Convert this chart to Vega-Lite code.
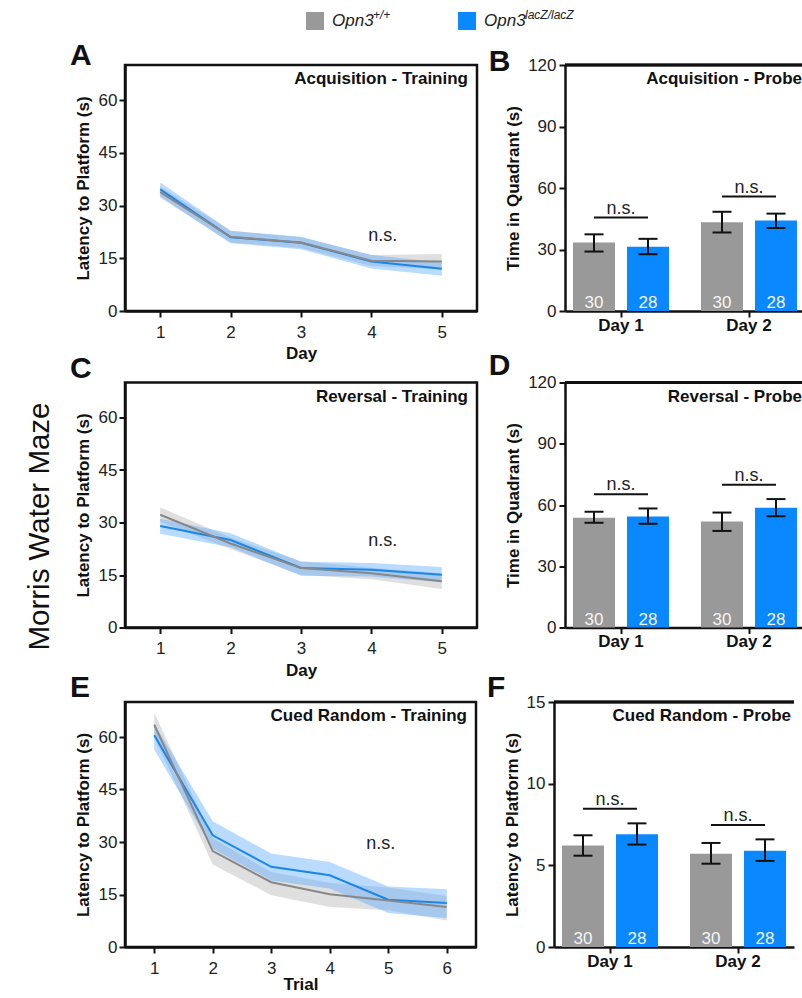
{
  "$schema": "https://vega.github.io/schema/vega-lite/v6.json",
  "padding": {"left": 25, "top": 0, "right": 0, "bottom": 0},
  "background": "white",
  "config": {
    "font": "Liberation Sans",
    "view": {"stroke": "#111", "strokeWidth": 2.5},
    "axis": {"domainColor": "#111", "domainWidth": 2.5, "tickColor": "#111", "tickWidth": 2, "tickSize": 6, "labelFontSize": 17, "labelColor": "#222", "labelFont": "Liberation Sans", "titleFont": "Liberation Sans", "titleFontSize": 17, "titleFontWeight": "bold", "titleColor": "#111", "grid": false},
    "title": {"fontSize": 30, "fontWeight": "bold", "anchor": "start", "color": "#111", "font": "Liberation Sans", "offset": -9}
  },
  "datasets": {
    "legend": [
      {"g": "wt", "base": "Opn3", "sup": "+/+"},
      {"g": "ko", "base": "Opn3", "sup": "lacZ/lacZ"}
    ],
    "lineA": [
      {"g": "wt", "x": 1, "m": 33.8, "lo": 32.2, "hi": 35.4},
      {"g": "wt", "x": 2, "m": 21.1, "lo": 19.5, "hi": 22.8},
      {"g": "wt", "x": 3, "m": 19.5, "lo": 17.9, "hi": 21.0},
      {"g": "wt", "x": 4, "m": 14.3, "lo": 12.8, "hi": 15.9},
      {"g": "wt", "x": 5, "m": 14.1, "lo": 11.9, "hi": 16.2},
      {"g": "ko", "x": 1, "m": 34.6, "lo": 32.6, "hi": 36.6},
      {"g": "ko", "x": 2, "m": 21.0, "lo": 19.3, "hi": 22.8},
      {"g": "ko", "x": 3, "m": 19.4, "lo": 17.6, "hi": 21.1},
      {"g": "ko", "x": 4, "m": 14.1, "lo": 12.1, "hi": 15.9},
      {"g": "ko", "x": 5, "m": 12.0, "lo": 10.0, "hi": 13.8}
    ],
    "lineC": [
      {"g": "wt", "x": 1, "m": 32.2, "lo": 30.2, "hi": 34.3},
      {"g": "wt", "x": 2, "m": 24.0, "lo": 22.4, "hi": 25.7},
      {"g": "wt", "x": 3, "m": 17.0, "lo": 15.0, "hi": 18.9},
      {"g": "wt", "x": 4, "m": 15.5, "lo": 13.8, "hi": 17.1},
      {"g": "wt", "x": 5, "m": 13.2, "lo": 11.0, "hi": 15.5},
      {"g": "ko", "x": 1, "m": 29.0, "lo": 26.8, "hi": 31.1},
      {"g": "ko", "x": 2, "m": 25.0, "lo": 22.9, "hi": 26.9},
      {"g": "ko", "x": 3, "m": 17.0, "lo": 14.8, "hi": 18.8},
      {"g": "ko", "x": 4, "m": 16.5, "lo": 14.6, "hi": 18.4},
      {"g": "ko", "x": 5, "m": 15.1, "lo": 12.9, "hi": 17.3}
    ],
    "lineE": [
      {"g": "wt", "x": 1, "m": 63.5, "lo": 60.0, "hi": 66.9},
      {"g": "wt", "x": 2, "m": 27.4, "lo": 23.6, "hi": 31.0},
      {"g": "wt", "x": 3, "m": 18.5, "lo": 14.8, "hi": 21.4},
      {"g": "wt", "x": 4, "m": 15.1, "lo": 11.4, "hi": 18.3},
      {"g": "wt", "x": 5, "m": 13.3, "lo": 10.5, "hi": 17.0},
      {"g": "wt", "x": 6, "m": 11.4, "lo": 7.6, "hi": 14.6},
      {"g": "ko", "x": 1, "m": 60.5, "lo": 56.4, "hi": 63.8},
      {"g": "ko", "x": 2, "m": 31.9, "lo": 28.1, "hi": 35.9},
      {"g": "ko", "x": 3, "m": 22.9, "lo": 19.0, "hi": 26.7},
      {"g": "ko", "x": 4, "m": 20.5, "lo": 16.7, "hi": 24.3},
      {"g": "ko", "x": 5, "m": 13.5, "lo": 9.7, "hi": 17.3},
      {"g": "ko", "x": 6, "m": 12.6, "lo": 8.3, "hi": 16.5}
    ],
    "barB": [
      {"day": "Day 1", "g": "wt", "m": 33.4, "lo": 29.0, "hi": 37.4, "n": "30", "ns": 45.6},
      {"day": "Day 1", "g": "ko", "m": 31.4, "lo": 27.7, "hi": 35.2, "n": "28", "ns": 45.6},
      {"day": "Day 2", "g": "wt", "m": 43.3, "lo": 38.3, "hi": 48.4, "n": "30", "ns": 55.8},
      {"day": "Day 2", "g": "ko", "m": 44.1, "lo": 40.5, "hi": 47.5, "n": "28", "ns": 55.8}
    ],
    "barD": [
      {"day": "Day 1", "g": "wt", "m": 53.7, "lo": 51.3, "hi": 56.7, "n": "30", "ns": 65.3},
      {"day": "Day 1", "g": "ko", "m": 54.4, "lo": 50.8, "hi": 58.3, "n": "28", "ns": 65.3},
      {"day": "Day 2", "g": "wt", "m": 51.9, "lo": 47.3, "hi": 56.3, "n": "30", "ns": 69.9},
      {"day": "Day 2", "g": "ko", "m": 58.6, "lo": 54.5, "hi": 62.9, "n": "28", "ns": 69.9}
    ],
    "barF": [
      {"day": "Day 1", "g": "wt", "m": 6.22, "lo": 5.59, "hi": 6.84, "n": "30", "ns": 8.47},
      {"day": "Day 1", "g": "ko", "m": 6.90, "lo": 6.27, "hi": 7.57, "n": "28", "ns": 8.47},
      {"day": "Day 2", "g": "wt", "m": 5.71, "lo": 5.10, "hi": 6.37, "n": "30", "ns": 7.47},
      {"day": "Day 2", "g": "ko", "m": 5.90, "lo": 5.27, "hi": 6.59, "n": "28", "ns": 7.47}
    ]
  },
  "spacing": -3,
  "vconcat": [
    {
      "width": 456, "height": 42,
      "view": {"stroke": null},
      "data": {"name": "legend"},
      "encoding": {"x": {"field": "g", "type": "nominal", "scale": {"type": "point", "domain": ["wt", "ko"], "padding": 1, "align": 0.625}, "axis": null}},
      "layer": [
        {"mark": {"type": "square", "size": 324, "filled": true, "opacity": 1}, "encoding": {"color": {"field": "g", "type": "nominal", "scale": {"domain": ["wt", "ko"], "range": ["#999999", "#0a88ff"]}, "legend": null}}},
        {"mark": {"type": "text", "align": "left", "dx": 17, "fontSize": 17, "fontStyle": "italic", "color": "#222"}, "encoding": {"text": {"field": "base"}}},
        {"mark": {"type": "text", "align": "left", "dx": 58, "dy": -6, "fontSize": 12, "fontStyle": "italic", "color": "#222"}, "encoding": {"text": {"field": "sup"}}}
      ]
    },
    {
      "title": {"text": "Morris Water Maze", "orient": "left", "anchor": "middle", "fontSize": 29.5, "fontWeight": "normal", "offset": 13, "dx": -10, "color": "#111"},
      "spacing": -12.5,
      "vconcat": [
        {
          "spacing": 9,
          "hconcat": [
            {
              "width": 352, "height": 246,
              "title": {"text": "A", "dx": -4, "dy": -3},
              "data": {"name": "lineA"},
              "layer": [
                {"transform": [{"filter": "datum.g === 'wt'"}], "mark": {"type": "area", "color": "#b0b0b0", "opacity": 0.4}, "encoding": {"x": {"field": "x", "type": "quantitative", "scale": {"domain": [0.5, 5.5], "nice": false}, "axis": {"values": [1, 2, 3, 4, 5], "format": "d", "title": "Day", "labelPadding": 7, "titlePadding": 5.5}}, "y": {"field": "lo", "type": "quantitative", "scale": {"domain": [0, 70], "nice": false}, "axis": {"values": [0, 15, 30, 45, 60], "title": "Latency to Platform (s)", "labelPadding": 2, "titlePadding": 6}}, "y2": {"field": "hi"}}},
                {"transform": [{"filter": "datum.g === 'ko'"}], "mark": {"type": "area", "color": "#4da6ff", "opacity": 0.4}, "encoding": {"x": {"field": "x", "type": "quantitative"}, "y": {"field": "lo", "type": "quantitative"}, "y2": {"field": "hi"}}},
                {"transform": [{"filter": "datum.g === 'ko'"}], "mark": {"type": "line", "color": "#1a86e8", "strokeWidth": 2}, "encoding": {"x": {"field": "x", "type": "quantitative"}, "y": {"field": "m", "type": "quantitative"}}},
                {"transform": [{"filter": "datum.g === 'wt'"}], "mark": {"type": "line", "color": "#888888", "strokeWidth": 2}, "encoding": {"x": {"field": "x", "type": "quantitative"}, "y": {"field": "m", "type": "quantitative"}}},
                {"data": {"values": [{"note": "n.s."}]}, "mark": {"type": "text", "fontSize": 18, "color": "#222"}, "encoding": {"x": {"datum": 4.16, "type": "quantitative"}, "y": {"datum": 21.4, "type": "quantitative"}, "text": {"field": "note"}}},
                {"data": {"values": [{"t": "Acquisition - Training"}]}, "mark": {"type": "text", "align": "right", "baseline": "top", "dx": -9, "dy": 6, "fontSize": 17, "fontWeight": "bold", "color": "#111"}, "encoding": {"x": {"value": "width"}, "y": {"value": 0}, "text": {"field": "t"}}}
              ]
            },
            {
              "width": 240, "height": 246,
              "view": {"stroke": null},
              "title": {"text": "B", "dx": -16, "dy": 12},
              "data": {"name": "barB"},
              "layer": [
                {"mark": {"type": "bar"}, "encoding": {"x": {"field": "day", "type": "nominal", "scale": {"paddingInner": 0.25, "paddingOuter": 0.0625}, "axis": {"title": null, "labelAngle": 0, "labelFontWeight": "bold", "labelColor": "#111", "labelPadding": 0}}, "xOffset": {"field": "g", "type": "nominal", "scale": {"domain": ["wt", "ko"], "paddingInner": 0.222, "paddingOuter": 0}}, "y": {"field": "m", "type": "quantitative", "scale": {"domain": [0, 120], "nice": false}, "axis": {"values": [0, 15, 30, 45, 60, 75, 90, 105, 120], "labelExpr": "datum.value % 30 === 0 ? datum.label : ''", "title": "Time in Quadrant (s)", "labelPadding": 3, "titlePadding": 5}}, "color": {"field": "g", "type": "nominal", "scale": {"domain": ["wt", "ko"], "range": ["#999999", "#0a88ff"]}, "legend": null}}},
                {"mark": {"type": "rule", "color": "#111", "strokeWidth": 2}, "encoding": {"x": {"field": "day", "type": "nominal"}, "xOffset": {"field": "g", "type": "nominal"}, "y": {"field": "lo", "type": "quantitative"}, "y2": {"field": "hi"}}},
                {"mark": {"type": "tick", "orient": "horizontal", "color": "#111", "size": 19, "thickness": 2, "opacity": 1}, "encoding": {"x": {"field": "day", "type": "nominal"}, "xOffset": {"field": "g", "type": "nominal"}, "y": {"field": "lo", "type": "quantitative"}}},
                {"mark": {"type": "tick", "orient": "horizontal", "color": "#111", "size": 19, "thickness": 2, "opacity": 1}, "encoding": {"x": {"field": "day", "type": "nominal"}, "xOffset": {"field": "g", "type": "nominal"}, "y": {"field": "hi", "type": "quantitative"}}},
                {"transform": [{"filter": "datum.g === 'wt'"}], "mark": {"type": "tick", "orient": "horizontal", "color": "#111", "size": 54, "thickness": 2, "opacity": 1}, "encoding": {"x": {"field": "day", "type": "nominal"}, "y": {"field": "ns", "type": "quantitative"}}},
                {"transform": [{"filter": "datum.g === 'wt'"}], "mark": {"type": "text", "baseline": "alphabetic", "dy": -4, "fontSize": 18, "color": "#222"}, "encoding": {"x": {"field": "day", "type": "nominal"}, "y": {"field": "ns", "type": "quantitative"}, "text": {"value": "n.s."}}},
                {"mark": {"type": "text", "baseline": "alphabetic", "dy": -3, "fontSize": 17, "color": "#f4f4f4"}, "encoding": {"x": {"field": "day", "type": "nominal"}, "xOffset": {"field": "g", "type": "nominal"}, "y": {"datum": 0}, "text": {"field": "n"}}},
                {"mark": {"type": "rule", "color": "#111", "strokeWidth": 2.5}, "encoding": {"y": {"datum": 120}}},
                {"data": {"values": [{"t": "Acquisition - Probe"}]}, "mark": {"type": "text", "align": "right", "baseline": "top", "dx": -3, "dy": 6, "fontSize": 17, "fontWeight": "bold", "color": "#111"}, "encoding": {"x": {"value": "width"}, "y": {"value": 0}, "text": {"field": "t"}}}
              ]
            }
          ]
        },
        {
          "spacing": -8.5,
          "vconcat": [
            {
              "spacing": 9,
              "hconcat": [
                {
                  "width": 352, "height": 245,
                  "title": {"text": "C", "dx": -4, "dy": -8},
                  "data": {"name": "lineC"},
                  "layer": [
                    {"transform": [{"filter": "datum.g === 'wt'"}], "mark": {"type": "area", "color": "#b0b0b0", "opacity": 0.4}, "encoding": {"x": {"field": "x", "type": "quantitative", "scale": {"domain": [0.5, 5.5], "nice": false}, "axis": {"values": [1, 2, 3, 4, 5], "format": "d", "title": "Day", "labelPadding": 7, "titlePadding": 5.5}}, "y": {"field": "lo", "type": "quantitative", "scale": {"domain": [0, 70], "nice": false}, "axis": {"values": [0, 15, 30, 45, 60], "title": "Latency to Platform (s)", "labelPadding": 2, "titlePadding": 6}}, "y2": {"field": "hi"}}},
                    {"transform": [{"filter": "datum.g === 'ko'"}], "mark": {"type": "area", "color": "#4da6ff", "opacity": 0.4}, "encoding": {"x": {"field": "x", "type": "quantitative"}, "y": {"field": "lo", "type": "quantitative"}, "y2": {"field": "hi"}}},
                    {"transform": [{"filter": "datum.g === 'ko'"}], "mark": {"type": "line", "color": "#1a86e8", "strokeWidth": 2}, "encoding": {"x": {"field": "x", "type": "quantitative"}, "y": {"field": "m", "type": "quantitative"}}},
                    {"transform": [{"filter": "datum.g === 'wt'"}], "mark": {"type": "line", "color": "#888888", "strokeWidth": 2}, "encoding": {"x": {"field": "x", "type": "quantitative"}, "y": {"field": "m", "type": "quantitative"}}},
                    {"data": {"values": [{"note": "n.s."}]}, "mark": {"type": "text", "fontSize": 18, "color": "#222"}, "encoding": {"x": {"datum": 4.16, "type": "quantitative"}, "y": {"datum": 24.8, "type": "quantitative"}, "text": {"field": "note"}}},
                    {"data": {"values": [{"t": "Reversal - Training"}]}, "mark": {"type": "text", "align": "right", "baseline": "top", "dx": -9, "dy": 6, "fontSize": 17, "fontWeight": "bold", "color": "#111"}, "encoding": {"x": {"value": "width"}, "y": {"value": 0}, "text": {"field": "t"}}}
                  ]
                },
                {
                  "width": 240, "height": 245,
                  "view": {"stroke": null},
                  "title": {"text": "D", "dx": -16, "dy": -2},
                  "data": {"name": "barD"},
                  "layer": [
                    {"mark": {"type": "bar"}, "encoding": {"x": {"field": "day", "type": "nominal", "scale": {"paddingInner": 0.25, "paddingOuter": 0.0625}, "axis": {"title": null, "labelAngle": 0, "labelFontWeight": "bold", "labelColor": "#111", "labelPadding": 0}}, "xOffset": {"field": "g", "type": "nominal", "scale": {"domain": ["wt", "ko"], "paddingInner": 0.222, "paddingOuter": 0}}, "y": {"field": "m", "type": "quantitative", "scale": {"domain": [0, 120], "nice": false}, "axis": {"values": [0, 15, 30, 45, 60, 75, 90, 105, 120], "labelExpr": "datum.value % 30 === 0 ? datum.label : ''", "title": "Time in Quadrant (s)", "labelPadding": 3, "titlePadding": 5}}, "color": {"field": "g", "type": "nominal", "scale": {"domain": ["wt", "ko"], "range": ["#999999", "#0a88ff"]}, "legend": null}}},
                    {"mark": {"type": "rule", "color": "#111", "strokeWidth": 2}, "encoding": {"x": {"field": "day", "type": "nominal"}, "xOffset": {"field": "g", "type": "nominal"}, "y": {"field": "lo", "type": "quantitative"}, "y2": {"field": "hi"}}},
                    {"mark": {"type": "tick", "orient": "horizontal", "color": "#111", "size": 19, "thickness": 2, "opacity": 1}, "encoding": {"x": {"field": "day", "type": "nominal"}, "xOffset": {"field": "g", "type": "nominal"}, "y": {"field": "lo", "type": "quantitative"}}},
                    {"mark": {"type": "tick", "orient": "horizontal", "color": "#111", "size": 19, "thickness": 2, "opacity": 1}, "encoding": {"x": {"field": "day", "type": "nominal"}, "xOffset": {"field": "g", "type": "nominal"}, "y": {"field": "hi", "type": "quantitative"}}},
                    {"transform": [{"filter": "datum.g === 'wt'"}], "mark": {"type": "tick", "orient": "horizontal", "color": "#111", "size": 54, "thickness": 2, "opacity": 1}, "encoding": {"x": {"field": "day", "type": "nominal"}, "y": {"field": "ns", "type": "quantitative"}}},
                    {"transform": [{"filter": "datum.g === 'wt'"}], "mark": {"type": "text", "baseline": "alphabetic", "dy": -4, "fontSize": 18, "color": "#222"}, "encoding": {"x": {"field": "day", "type": "nominal"}, "y": {"field": "ns", "type": "quantitative"}, "text": {"value": "n.s."}}},
                    {"mark": {"type": "text", "baseline": "alphabetic", "dy": -3, "fontSize": 17, "color": "#f4f4f4"}, "encoding": {"x": {"field": "day", "type": "nominal"}, "xOffset": {"field": "g", "type": "nominal"}, "y": {"datum": 0}, "text": {"field": "n"}}},
                    {"mark": {"type": "rule", "color": "#111", "strokeWidth": 2.5}, "encoding": {"y": {"datum": 120}}},
                    {"data": {"values": [{"t": "Reversal - Probe"}]}, "mark": {"type": "text", "align": "right", "baseline": "top", "dx": -3, "dy": 6, "fontSize": 17, "fontWeight": "bold", "color": "#111"}, "encoding": {"x": {"value": "width"}, "y": {"value": 0}, "text": {"field": "t"}}}
                  ]
                }
              ]
            },
            {
              "spacing": 9,
              "hconcat": [
                {
                  "width": 351, "height": 245,
                  "title": {"text": "E", "dx": -4, "dy": -8},
                  "data": {"name": "lineE"},
                  "layer": [
                    {"transform": [{"filter": "datum.g === 'wt'"}], "mark": {"type": "area", "color": "#b0b0b0", "opacity": 0.4}, "encoding": {"x": {"field": "x", "type": "quantitative", "scale": {"domain": [0.5, 6.5], "nice": false}, "axis": {"values": [1, 2, 3, 4, 5, 6], "format": "d", "title": "Trial", "labelPadding": 7, "titlePadding": 0}}, "y": {"field": "lo", "type": "quantitative", "scale": {"domain": [0, 70], "nice": false}, "axis": {"values": [0, 15, 30, 45, 60], "title": "Latency to Platform (s)", "labelPadding": 2, "titlePadding": 6}}, "y2": {"field": "hi"}}},
                    {"transform": [{"filter": "datum.g === 'ko'"}], "mark": {"type": "area", "color": "#4da6ff", "opacity": 0.4}, "encoding": {"x": {"field": "x", "type": "quantitative"}, "y": {"field": "lo", "type": "quantitative"}, "y2": {"field": "hi"}}},
                    {"transform": [{"filter": "datum.g === 'ko'"}], "mark": {"type": "line", "color": "#1a86e8", "strokeWidth": 2}, "encoding": {"x": {"field": "x", "type": "quantitative"}, "y": {"field": "m", "type": "quantitative"}}},
                    {"transform": [{"filter": "datum.g === 'wt'"}], "mark": {"type": "line", "color": "#888888", "strokeWidth": 2}, "encoding": {"x": {"field": "x", "type": "quantitative"}, "y": {"field": "m", "type": "quantitative"}}},
                    {"data": {"values": [{"note": "n.s."}]}, "mark": {"type": "text", "fontSize": 18, "color": "#222"}, "encoding": {"x": {"datum": 4.87, "type": "quantitative"}, "y": {"datum": 29.3, "type": "quantitative"}, "text": {"field": "note"}}},
                    {"data": {"values": [{"t": "Cued Random - Training"}]}, "mark": {"type": "text", "align": "right", "baseline": "top", "dx": -9, "dy": 6, "fontSize": 17, "fontWeight": "bold", "color": "#111"}, "encoding": {"x": {"value": "width"}, "y": {"value": 0}, "text": {"field": "t"}}}
                  ]
                },
                {
                  "width": 240, "height": 245,
                  "view": {"stroke": null},
                  "title": {"text": "F", "dx": -16, "dy": 1},
                  "data": {"name": "barF"},
                  "layer": [
                    {"mark": {"type": "bar"}, "encoding": {"x": {"field": "day", "type": "nominal", "scale": {"paddingInner": 0.25, "paddingOuter": 0.0625}, "axis": {"title": null, "labelAngle": 0, "labelFontWeight": "bold", "labelColor": "#111", "labelPadding": 0}}, "xOffset": {"field": "g", "type": "nominal", "scale": {"domain": ["wt", "ko"], "paddingInner": 0.222, "paddingOuter": 0}}, "y": {"field": "m", "type": "quantitative", "scale": {"domain": [0, 15], "nice": false}, "axis": {"values": [0, 5, 10, 15], "title": "Latency to Platform (s)", "labelPadding": 3, "titlePadding": 5}}, "color": {"field": "g", "type": "nominal", "scale": {"domain": ["wt", "ko"], "range": ["#999999", "#0a88ff"]}, "legend": null}}},
                    {"mark": {"type": "rule", "color": "#111", "strokeWidth": 2}, "encoding": {"x": {"field": "day", "type": "nominal"}, "xOffset": {"field": "g", "type": "nominal"}, "y": {"field": "lo", "type": "quantitative"}, "y2": {"field": "hi"}}},
                    {"mark": {"type": "tick", "orient": "horizontal", "color": "#111", "size": 19, "thickness": 2, "opacity": 1}, "encoding": {"x": {"field": "day", "type": "nominal"}, "xOffset": {"field": "g", "type": "nominal"}, "y": {"field": "lo", "type": "quantitative"}}},
                    {"mark": {"type": "tick", "orient": "horizontal", "color": "#111", "size": 19, "thickness": 2, "opacity": 1}, "encoding": {"x": {"field": "day", "type": "nominal"}, "xOffset": {"field": "g", "type": "nominal"}, "y": {"field": "hi", "type": "quantitative"}}},
                    {"transform": [{"filter": "datum.g === 'wt'"}], "mark": {"type": "tick", "orient": "horizontal", "color": "#111", "size": 54, "thickness": 2, "opacity": 1}, "encoding": {"x": {"field": "day", "type": "nominal"}, "y": {"field": "ns", "type": "quantitative"}}},
                    {"transform": [{"filter": "datum.g === 'wt'"}], "mark": {"type": "text", "baseline": "alphabetic", "dy": -4, "fontSize": 18, "color": "#222"}, "encoding": {"x": {"field": "day", "type": "nominal"}, "y": {"field": "ns", "type": "quantitative"}, "text": {"value": "n.s."}}},
                    {"mark": {"type": "text", "baseline": "alphabetic", "dy": -3, "fontSize": 17, "color": "#f4f4f4"}, "encoding": {"x": {"field": "day", "type": "nominal"}, "xOffset": {"field": "g", "type": "nominal"}, "y": {"datum": 0}, "text": {"field": "n"}}},
                    {"mark": {"type": "rule", "color": "#111", "strokeWidth": 2.5}, "encoding": {"y": {"datum": 15}}},
                    {"data": {"values": [{"t": "Cued Random - Probe"}]}, "mark": {"type": "text", "align": "right", "baseline": "top", "dx": -3, "dy": 6, "fontSize": 17, "fontWeight": "bold", "color": "#111"}, "encoding": {"x": {"value": "width"}, "y": {"value": 0}, "text": {"field": "t"}}}
                  ]
                }
              ]
            }
          ]
        }
      ]
    }
  ]
}
